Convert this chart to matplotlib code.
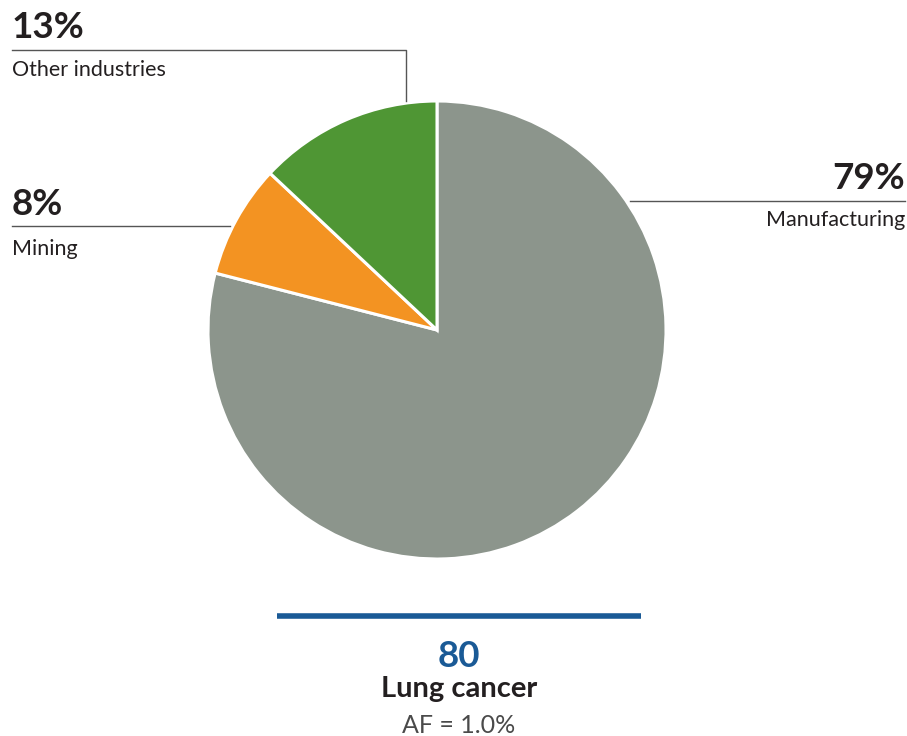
import matplotlib.pyplot as plt

categories = ["Manufacturing", "Mining", "Other industries"]
shares = [79, 8, 13]
colors = ["#8c958c", "#f39322", "#4f9634"]
total_cases = 80
cancer = "Lung cancer"
af_text = "AF = 1.0%"

W, H = 907, 736
fig = plt.figure(figsize=(W / 100, H / 100), dpi=100)
ax = fig.add_axes([0, 0, 1, 1])
ax.set_xlim(0, W)
ax.set_ylim(0, H)
ax.set_aspect("equal")
ax.axis("off")

def Y(y):
    return H - y

cx, cy, r = 437, 330, 229
ax.pie(shares, colors=colors, startangle=90, counterclock=False,
       center=(cx, Y(cy)), radius=r, frame=True,
       wedgeprops=dict(edgecolor="white", linewidth=2.2))
ax.set_xlim(0, W)
ax.set_ylim(0, H)
ax.axis("off")

fam = ["Lato", "DejaVu Sans"]
dark = "#231f20"
line_c = "#555555"
big = 26.5
small = 15.5

# Other industries
ax.plot([12, 406, 406], [Y(50), Y(50), Y(101)], color=line_c, lw=1.0)
ax.text(12, Y(38), f"{shares[2]}%", fontsize=big, fontweight="bold", family=fam, color=dark, va="baseline", ha="left")
ax.text(12, Y(76), categories[2], fontsize=small, family=fam, color=dark, va="baseline", ha="left")

# Mining
ax.plot([12, 230], [Y(226), Y(226)], color=line_c, lw=1.0)
ax.text(12, Y(215), f"{shares[1]}%", fontsize=big, fontweight="bold", family=fam, color=dark, va="baseline", ha="left")
ax.text(12, Y(255), categories[1], fontsize=small, family=fam, color=dark, va="baseline", ha="left")

# Manufacturing
ax.plot([630, 905], [Y(201), Y(201)], color=line_c, lw=1.0)
ax.text(905, Y(189), f"{shares[0]}%", fontsize=big, fontweight="bold", family=fam, color=dark, va="baseline", ha="right")
ax.text(905, Y(226), categories[0], fontsize=small, family=fam, color=dark, va="baseline", ha="right")

# Bottom block
ax.plot([277, 641], [Y(616), Y(616)], color="#1a5a96", lw=4, solid_capstyle="butt")
ax.text(459, Y(667), str(total_cases), fontsize=26.5, fontweight="bold", family=fam, color="#1a5a96", va="baseline", ha="center")
ax.text(459, Y(697), cancer, fontsize=21, fontweight="bold", family=fam, color=dark, va="baseline", ha="center")
ax.text(459, Y(733), af_text, fontsize=18, fontweight="normal", family=fam, color="#4a4a4a", va="baseline", ha="center")

fig.savefig("out.png", dpi=100)
